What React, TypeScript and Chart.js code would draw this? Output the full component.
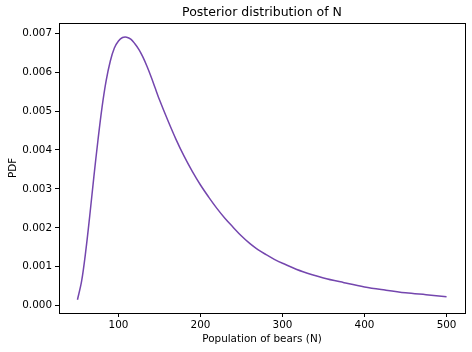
import React, { useEffect, useRef } from "react";
import { Chart, registerables } from "chart.js";

Chart.register(...registerables);

const populations = [50, 55, 60, 65, 70, 75, 80, 85, 90, 95, 100, 105, 110, 115, 120, 125, 130, 135, 140, 145, 150, 160, 170, 180, 190, 200, 210, 220, 230, 240, 250, 260, 270, 280, 290, 300, 325, 350, 375, 400, 425, 450, 475, 500];
const pdfValues = [0.00015, 0.00062, 0.00138, 0.00231, 0.00331, 0.00425, 0.0051, 0.00578, 0.00628, 0.00662, 0.0068, 0.00689, 0.0069, 0.00685, 0.00673, 0.00658, 0.00638, 0.00614, 0.00587, 0.00558, 0.00529, 0.00477, 0.00428, 0.00384, 0.00345, 0.0031, 0.00279, 0.0025, 0.00224, 0.00201, 0.00179, 0.0016, 0.00144, 0.00131, 0.00119, 0.00109, 0.00087, 0.00071, 0.00059, 0.00048, 0.0004, 0.00033, 0.00028, 0.00023];
const xTicks = [100, 200, 300, 400, 500];
const yTicks = [0, 0.001, 0.002, 0.003, 0.004, 0.005, 0.006, 0.007];

const FONT = "'DejaVu Sans', sans-serif";

const frame = {
  id: "frame",
  afterDraw(chart: any) {
    const { ctx, chartArea } = chart;
    ctx.save();
    ctx.strokeStyle = "#000";
    ctx.lineWidth = 1;
    ctx.strokeRect(
      Math.round(chartArea.left) + 0.5,
      Math.round(chartArea.top) + 0.5,
      Math.round(chartArea.right - chartArea.left),
      Math.round(chartArea.bottom - chartArea.top)
    );
    ctx.restore();
  },
};

export default function App() {
  const ref = useRef<HTMLCanvasElement>(null);
  useEffect(() => {
    const chart = new Chart(ref.current!, {
      type: "line",
      data: {
        datasets: [
          {
            data: populations.map((x, i) => ({ x, y: pdfValues[i] })),
            borderColor: "#7446ae",
            borderWidth: 1.5,
            pointRadius: 0,
            tension: 0.35,
            fill: false,
          },
        ],
      },
      options: {
        animation: false,
        responsive: false,
        devicePixelRatio: 1,
        layout: { padding: { left: 0, right: 7, top: 0, bottom: 6 } },
        plugins: {
          legend: { display: false },
          tooltip: { enabled: false },
          title: {
            display: true,
            fullSize: false,
            text: "Posterior distribution of N",
            color: "#000",
            font: { family: FONT, size: 12.5, weight: "normal" },
            padding: { top: 5, bottom: 3 },
          },
        },
        scales: {
          x: {
            type: "linear",
            min: 27.5,
            max: 522.5,
            afterBuildTicks: (axis: any) => {
              axis.ticks = xTicks.map((v) => ({ value: v }));
            },
            afterFit: (axis: any) => {
              axis.height = 33;
            },
            ticks: {
              color: "#000",
              font: { family: FONT, size: 10.4 },
              padding: 2,
              maxRotation: 0,
              autoSkip: false,
            },
            grid: {
              drawOnChartArea: false,
              drawTicks: true,
              tickLength: 4,
              color: "#000",
            },
            border: { color: "#000" },
            title: {
              display: true,
              text: "Population of bears (N)",
              color: "#000",
              font: { family: FONT, size: 10.4 },
              padding: { top: 0, bottom: 0 },
            },
          },
          y: {
            type: "linear",
            min: -0.00019,
            max: 0.007264,
            afterBuildTicks: (axis: any) => {
              axis.ticks = yTicks.map((v) => ({ value: v }));
            },
            afterFit: (axis: any) => {
              axis.width = 59;
            },
            ticks: {
              color: "#000",
              font: { family: FONT, size: 10.4 },
              padding: 3,
              autoSkip: false,
              callback: (v: any) => Number(v).toFixed(3),
            },
            grid: {
              drawOnChartArea: false,
              drawTicks: true,
              tickLength: 4,
              color: "#000",
            },
            border: { color: "#000" },
            title: {
              display: true,
              text: "PDF",
              color: "#000",
              font: { family: FONT, size: 10.4 },
              padding: { top: 7, bottom: 0 },
            },
          },
        },
      },
      plugins: [frame],
    } as any);
    return () => chart.destroy();
  }, []);
  return (
    <div style={{ position: "fixed", left: 0, top: 0, width: 472, height: 352, background: "#fff" }}>
      <canvas ref={ref} width={472} height={352} style={{ width: 472, height: 352 }} />
    </div>
  );
}
